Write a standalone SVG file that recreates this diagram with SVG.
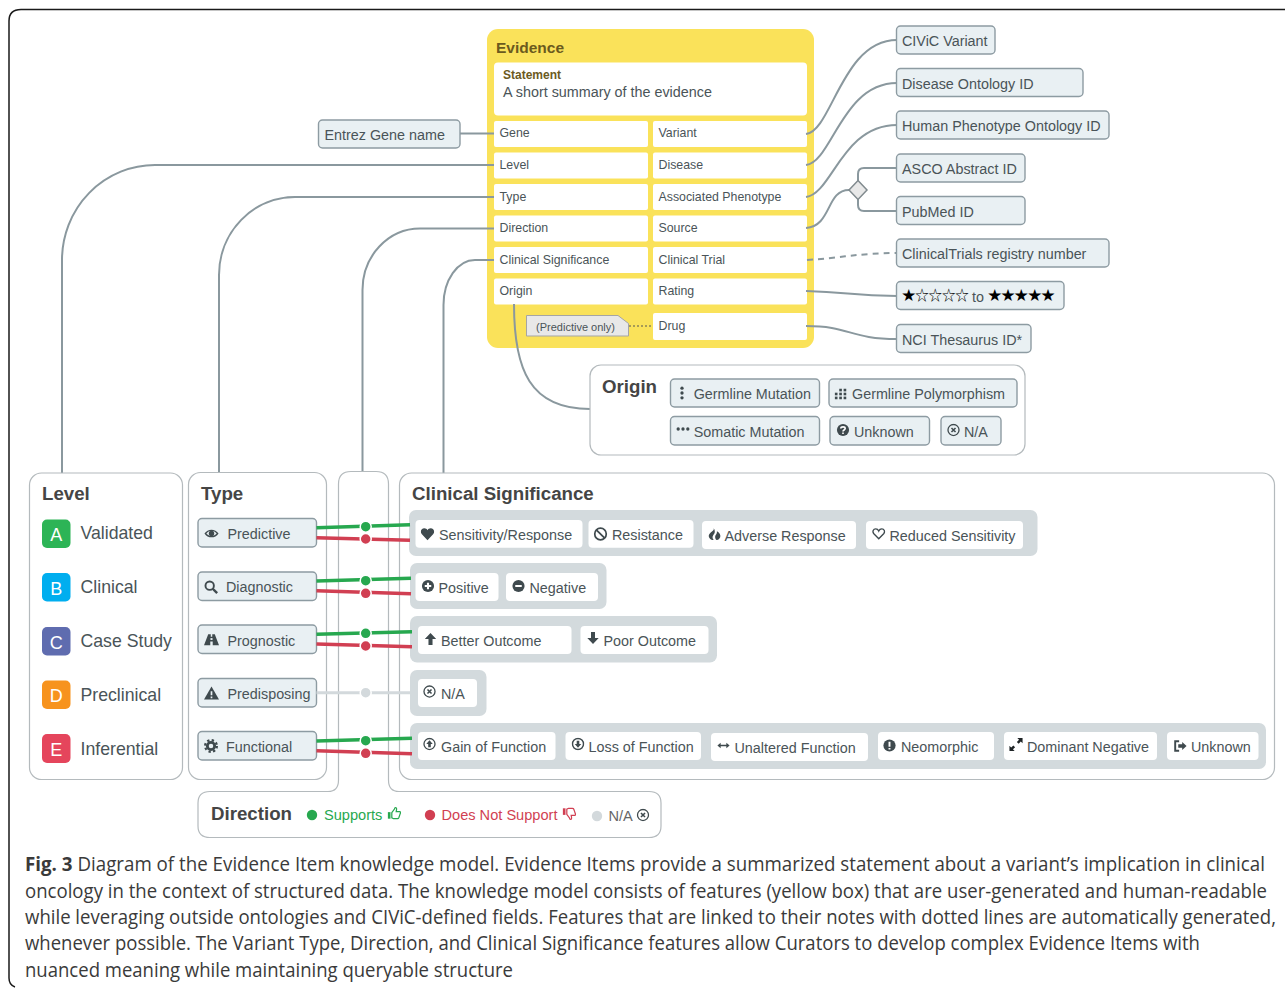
<svg xmlns="http://www.w3.org/2000/svg" width="1285" height="988" viewBox="0 0 1285 988">
<style>
text{font-family:"Liberation Sans",Arial,sans-serif;fill:#4a5458}
.panel{fill:#fff;stroke:#b4babd;stroke-width:1.2}
.chip{fill:#e9f0f3;stroke:#8d9ba2;stroke-width:1.4}
.white{fill:#fff}
.grp{fill:#d3dadd}
.field{fill:#fff}
.t{font-size:14.350px}
.ft{font-size:12.350px}
.h{font-size:18.700px;font-weight:bold;fill:#454545}
.lv{font-size:17.700px}
.badge{font-size:18px;fill:#fff;text-anchor:middle}
.star{font-family:"Noto Sans CJK JP",sans-serif;font-size:13.500px;fill:#000;letter-spacing:-.2px}
.con{fill:none;stroke:#8a989e;stroke-width:2}
.g{stroke:#27a84f;stroke-width:3.5;fill:none}
.r{stroke:#d13f52;stroke-width:3.5;fill:none}
.n{stroke:#d3d9dc;stroke-width:3;fill:none}
.dg{fill:#27a84f;stroke:#fff;stroke-width:1.5}
.dr{fill:#d13f52;stroke:#fff;stroke-width:1.5}
.dn{fill:#d3d9dc;stroke:#fff;stroke-width:1.5}
.cap{font-family:"Open Sans","Noto Sans",sans-serif;font-size:20px;fill:#3a3a3a}
</style>
<defs>
<symbol id="i-heart" viewBox="0 0 16 16"><path fill="#3f4a4e" d="M8 15 1.6 8.4C-1 5.4 1 1.5 4.4 1.5 6 1.5 7.3 2.4 8 3.6 8.7 2.4 10 1.5 11.6 1.5 15 1.5 17 5.4 14.4 8.4Z"/></symbol>
<symbol id="i-hearto" viewBox="0 0 16 16"><path fill="none" stroke="#3f4a4e" stroke-width="1.6" d="M8 14 2.2 8C0 5.4 1.6 2.3 4.4 2.3 6 2.3 7.3 3.3 8 4.8 8.7 3.3 10 2.3 11.6 2.3 14.4 2.3 16 5.4 13.8 8Z"/></symbol>
<symbol id="i-ban" viewBox="0 0 16 16"><circle cx="8" cy="8" r="6.6" fill="none" stroke="#3f4a4e" stroke-width="2"/><path d="M3.5 3.5 12.5 12.5" stroke="#3f4a4e" stroke-width="2"/></symbol>
<symbol id="i-fire" viewBox="0 0 16 16"><path fill="#3f4a4e" d="M7 .5C8.500 4 2 5.500 1 9.500 .5 12.500 3 15.500 7 15.500 4.500 12 6 10 7.500 8 9 6 8.500 3 7 .5ZM11 4.500C11.500 7.500 9 9 8.800 11 8.700 13 9.500 14.500 10.500 15.500 13.500 15 15.500 12.500 15.200 10 15 7.500 13 5.500 11 4.500Z"/></symbol>
<symbol id="i-plus" viewBox="0 0 16 16"><circle cx="8" cy="8" r="7.500" fill="#3f4a4e"/><path d="M8 4V12M4 8H12" stroke="#fff" stroke-width="2.600"/></symbol>
<symbol id="i-minus" viewBox="0 0 16 16"><circle cx="8" cy="8" r="7.500" fill="#3f4a4e"/><path d="M4 8H12" stroke="#fff" stroke-width="2.600"/></symbol>
<symbol id="i-up" viewBox="0 0 16 16"><path fill="#3f4a4e" d="M8 .5 15 8H10.500V15.500H5.500V8H1Z"/></symbol>
<symbol id="i-down" viewBox="0 0 16 16"><path fill="#3f4a4e" d="M8 15.500 15 8H10.500V.5H5.500V8H1Z"/></symbol>
<symbol id="i-x" viewBox="0 0 16 16"><circle cx="8" cy="8" r="6.800" fill="none" stroke="#3f4a4e" stroke-width="1.600"/><path d="M5.500 5.500 10.500 10.500M10.500 5.500 5.500 10.500" stroke="#3f4a4e" stroke-width="1.900"/></symbol>
<symbol id="i-upc" viewBox="0 0 16 16"><circle cx="8" cy="8" r="6.800" fill="none" stroke="#3f4a4e" stroke-width="1.600"/><path fill="#3f4a4e" d="M8 3.500 12 8H9.600V12H6.400V8H4Z"/></symbol>
<symbol id="i-downc" viewBox="0 0 16 16"><circle cx="8" cy="8" r="6.800" fill="none" stroke="#3f4a4e" stroke-width="1.800"/><path fill="#3f4a4e" d="M8 12.500 12 8H9.600V4H6.400V8H4Z"/></symbol>
<symbol id="i-lr" viewBox="0 0 16 16"><path fill="#3f4a4e" d="M.5 8 4.500 4.500V7H11.500V4.500L15.500 8 11.500 11.500V9H4.500V11.500Z"/></symbol>
<symbol id="i-ex" viewBox="0 0 16 16"><circle cx="8" cy="8" r="7.500" fill="#3f4a4e"/><path d="M8 3.500V9.500M8 11V13" stroke="#fff" stroke-width="2.400"/></symbol>
<symbol id="i-q" viewBox="0 0 16 16"><circle cx="8" cy="8" r="7.500" fill="#3f4a4e"/><path d="M5.300 6.200C5.500 3.500 10.700 3.500 10.700 6.200 10.700 8 8 8 8 9.800M8 11V13" fill="none" stroke="#fff" stroke-width="2"/></symbol>
<symbol id="i-exp" viewBox="0 0 16 16"><path fill="#1f2426" d="M9.500 .5H15.500V6.500L13.500 4.500 11 7 9 5 11.500 2.500ZM.5 9.500V15.500H6.500L4.500 13.500 7 11 5 9 2.500 11.500Z"/></symbol>
<symbol id="i-out" viewBox="0 0 16 16"><path fill="none" stroke="#3f4a4e" stroke-width="2.200" d="M7 2.500H2.500V13.500H7"/><path fill="#3f4a4e" d="M15.500 8 10.500 3.500V6H6V10H10.500V12.500Z"/></symbol>
<symbol id="i-ev" viewBox="0 0 16 16"><circle cx="8" cy="2.500" r="1.900" fill="#3f4a4e"/><circle cx="8" cy="8" r="1.900" fill="#3f4a4e"/><circle cx="8" cy="13.500" r="1.900" fill="#3f4a4e"/></symbol>
<symbol id="i-eh" viewBox="0 0 16 16"><circle cx="2.500" cy="8" r="1.900" fill="#3f4a4e"/><circle cx="8" cy="8" r="1.900" fill="#3f4a4e"/><circle cx="13.500" cy="8" r="1.900" fill="#3f4a4e"/></symbol>
<symbol id="i-chart" viewBox="0 0 16 16"><g fill="#3f4a4e"><rect x="6" y="2" width="3" height="3"/><rect x="11" y="2" width="3" height="3"/><rect x="6" y="6.500" width="3" height="3"/><rect x="11" y="6.500" width="3" height="3"/><rect x="1" y="11" width="3" height="3"/><rect x="6" y="11" width="3" height="3"/><rect x="11" y="11" width="3" height="3"/><rect x="1" y="6.500" width="3" height="3"/></g></symbol>
<symbol id="i-eye" viewBox="0 0 16 16"><path fill="#3f4a4e" d="M.5 8C4 2.500 12 2.500 15.500 8 12 13.500 4 13.500 .5 8Z"/><path fill="#e9f0f3" d="M2.500 8C5 4.500 11 4.500 13.500 8 11 11.500 5 11.500 2.500 8Z"/><circle cx="8" cy="8" r="2.900" fill="#3f4a4e"/></symbol>
<symbol id="i-search" viewBox="0 0 16 16"><circle cx="6.500" cy="6.500" r="4.800" fill="none" stroke="#3f4a4e" stroke-width="2.200"/><path d="M10 10 15 15" stroke="#3f4a4e" stroke-width="2.800"/></symbol>
<symbol id="i-road" viewBox="0 0 16 16"><path fill="#3f4a4e" d="M4.500 2.500H7.200V5H8.800V2.500H11.500L16 14H9.300V10H6.700V14H0Z"/><rect x="6.900" y="6.500" width="2.200" height="2" fill="#e9f0f3"/></symbol>
<symbol id="i-warn" viewBox="0 0 16 16"><path fill="#3f4a4e" d="M8 1 16 15H0Z"/><path d="M8 6V10.500M8 11.800V13.500" stroke="#e9f0f3" stroke-width="1.800"/></symbol>
<symbol id="i-gear" viewBox="0 0 16 16"><circle cx="8" cy="8" r="6.700" fill="none" stroke="#3f4a4e" stroke-width="2.600" stroke-dasharray="2.630 2.630"/><circle cx="8" cy="8" r="4.200" fill="none" stroke="#3f4a4e" stroke-width="3.200"/></symbol>
<symbol id="i-tu" viewBox="0 0 16 16"><path fill="none" stroke="#27a84f" stroke-width="1.400" d="M5.500 7.500 8.500 3.500C8.800 1.500 10.800 1 11 3.500L10.500 6.500H14.500C15.800 6.500 15.500 8 15 9L13.500 13.500C13.200 14.300 12.500 14.500 12 14.500H7.500L5.500 13.500Z"/><rect x="1" y="7" width="3" height="7.500" fill="#27a84f"/></symbol>
<symbol id="i-td" viewBox="0 0 16 16"><path fill="none" stroke="#d13f52" stroke-width="1.400" d="M5.500 8.500 8.500 12.500C8.800 14.500 10.800 15 11 12.500L10.500 9.500H14.500C15.800 9.500 15.500 8 15 7L13.500 2.500C13.200 1.700 12.500 1.500 12 1.500H7.500L5.500 2.500Z"/><rect x="1" y="1.500" width="3" height="7.500" fill="#d13f52"/></symbol>
</defs>

<rect width="1285" height="988" fill="#fff"/>
<path id="frame" d="M15 987Q9 985 9 978V21Q9 9.500 21 9.500H1285" fill="none" stroke="#1a1a1a" stroke-width="1.500"/>

<g id="evidence">
<rect x="487" y="29" width="327" height="319" rx="11" fill="#fae25a"/>
<text x="496" y="53" font-size="15.500" font-weight="bold" style="fill:#6b5a1e">Evidence</text>
<rect x="494" y="62.500" width="313" height="53" rx="4" class="field"/>
<text x="503" y="79" font-size="12" font-weight="bold" style="fill:#6b5a1e">Statement</text>
<text x="503" y="97" font-size="14.350">A short summary of the evidence</text>
</g>
<g id="f-gene"><rect x="494" y="121" width="154" height="26" rx="2" class="field"/><text x="499.500" y="137" class="ft">Gene</text></g>
<g id="f-level"><rect x="494" y="152.500" width="154" height="26" rx="2" class="field"/><text x="499.500" y="169" class="ft">Level</text></g>
<g id="f-type"><rect x="494" y="184" width="154" height="26" rx="2" class="field"/><text x="499.500" y="200.500" class="ft">Type</text></g>
<g id="f-direction"><rect x="494" y="215.500" width="154" height="26" rx="2" class="field"/><text x="499.500" y="232" class="ft">Direction</text></g>
<g id="f-clinsig"><rect x="494" y="247" width="154" height="26" rx="2" class="field"/><text x="499.500" y="263.500" class="ft">Clinical Significance</text></g>
<g id="f-origin"><rect x="494" y="278.500" width="154" height="26" rx="2" class="field"/><text x="499.500" y="295" class="ft">Origin</text></g>
<g id="f-variant"><rect x="653" y="121" width="154" height="26" rx="2" class="field"/><text x="658.500" y="137" class="ft">Variant</text></g>
<g id="f-disease"><rect x="653" y="152.500" width="154" height="26" rx="2" class="field"/><text x="658.500" y="169" class="ft">Disease</text></g>
<g id="f-phenotype"><rect x="653" y="184" width="154" height="26" rx="2" class="field"/><text x="658.500" y="200.500" class="ft">Associated Phenotype</text></g>
<g id="f-source"><rect x="653" y="215.500" width="154" height="26" rx="2" class="field"/><text x="658.500" y="232" class="ft">Source</text></g>
<g id="f-trial"><rect x="653" y="247" width="154" height="26" rx="2" class="field"/><text x="658.500" y="263.500" class="ft">Clinical Trial</text></g>
<g id="f-rating"><rect x="653" y="278.500" width="154" height="26" rx="2" class="field"/><text x="658.500" y="295" class="ft">Rating</text></g>
<g id="f-drug"><rect x="653" y="313" width="154" height="27" rx="2" class="field"/><text x="658.500" y="330" class="ft">Drug</text></g>
<g id="note-predictive">
<path d="M629 326H653" stroke="#555" stroke-width="1" stroke-dasharray="2 2" fill="none"/>
<path d="M526.500 315.500H618L628.500 323.500V336H526.500Z" fill="#e8e8e8" stroke="#a5a5a5" stroke-width="1"/>
<text x="575.500" y="331" font-size="11" text-anchor="middle">(Predictive only)</text>
</g>

<g id="connectors">
<path class="con" d="M460 133.500H494"/>
<path class="con" d="M494 165H155A93 95 0 0 0 62 260V473"/>
<path class="con" d="M494 197H295A76 78 0 0 0 219 275V473"/>
<path class="con" d="M494 228.500H420A57.500 61.500 0 0 0 362.500 290V472"/>
<path class="con" d="M494 260H475A31.500 45 0 0 0 443.500 305V473"/>
<path class="con" d="M514 304C514 370 530 409 590 409"/>
<path class="con" d="M806 134C832 131 842 40 897 40"/>
<path class="con" d="M806 165C832 162 842 83 897 83"/>
<path class="con" d="M806 197C832 194 842 125 897 125"/>
<path class="con" d="M806 228C832 226 826 190 849 190"/>
<path class="con" d="M858 181V174Q858 168 864 168H897"/>
<path class="con" d="M858 199V205Q858 211 864 211H897"/>
<path class="con" stroke-dasharray="6 5" d="M807 260C840 258 860 253 897 253"/>
<path class="con" d="M806 291C850 292 850 296 897 296"/>
<path class="con" d="M806 326C850 326 850 339 897 339"/>
</g>

<g id="x-entrez"><rect x="318.500" y="120" width="141.500" height="28" rx="4" class="chip"/><text x="324.500" y="139.500" class="t">Entrez Gene name</text></g>
<g id="x-civic"><rect x="896.500" y="26" width="98.500" height="28" rx="4" class="chip"/><text x="902" y="46" class="t">CIViC Variant</text></g>
<g id="x-do"><rect x="896.500" y="68.500" width="186.500" height="28" rx="4" class="chip"/><text x="902" y="88.500" class="t">Disease Ontology ID</text></g>
<g id="x-hpo"><rect x="896.500" y="111" width="212.500" height="28" rx="4" class="chip"/><text x="902" y="131" class="t">Human Phenotype Ontology ID</text></g>
<g id="x-asco"><rect x="896.500" y="154" width="128.500" height="28" rx="4" class="chip"/><text x="902" y="174" class="t">ASCO Abstract ID</text></g>
<g id="x-pubmed"><rect x="896.500" y="196.500" width="128.500" height="28" rx="4" class="chip"/><text x="902" y="216.500" class="t">PubMed ID</text></g>
<g id="x-ct"><rect x="896.500" y="239" width="212.500" height="28" rx="4" class="chip"/><text x="902" y="259" class="t">ClinicalTrials registry number</text></g>
<g id="x-rating"><rect x="896.500" y="281.500" width="167.500" height="28" rx="4" class="chip"/>
<text x="902" y="300" class="star">★☆☆☆☆</text>
<text x="972" y="301.500" class="t">to</text>
<text x="988" y="300" class="star">★★★★★</text></g>
<g id="x-nci"><rect x="896.500" y="324.500" width="134.500" height="28" rx="4" class="chip"/><text x="902" y="344.500" class="t">NCI Thesaurus ID*</text></g>
<g id="diamond"><path d="M858 180.500 867 190 858 199.500 849 190Z" fill="#e8e8e8" stroke="#808a8e" stroke-width="1.500"/></g>

<g id="origin">
<rect x="590" y="365" width="435" height="90" rx="11" class="panel"/>
<text x="602" y="393" class="h">Origin</text>
<rect x="670.500" y="379" width="149" height="28" rx="4" class="chip"/><use href="#i-ev" x="675" y="386" width="14" height="14"/><text x="693.700" y="398.500" class="t">Germline Mutation</text>
<rect x="829" y="379" width="188" height="28" rx="4" class="chip"/><use href="#i-chart" x="834" y="387" width="14" height="14"/><text x="852" y="398.500" class="t">Germline Polymorphism</text>
<rect x="670.500" y="416.500" width="149" height="28.500" rx="4" class="chip"/><use href="#i-eh" x="676" y="422" width="14" height="14"/><text x="693.700" y="436.500" class="t">Somatic Mutation</text>
<rect x="830" y="416.500" width="99.500" height="28.500" rx="4" class="chip"/><use href="#i-q" x="836.500" y="423.500" width="13" height="13"/><text x="854" y="436.500" class="t">Unknown</text>
<rect x="941" y="416.500" width="60" height="28.500" rx="4" class="chip"/><use href="#i-x" x="947" y="423.500" width="13" height="13"/><text x="964" y="436.500" class="t">N/A</text>
</g>

<g id="level">
<rect x="29.500" y="473" width="153" height="306.500" rx="12" class="panel"/>
<text x="42" y="500" class="h">Level</text>
<rect x="42" y="519.500" width="28.500" height="28.500" rx="5" fill="#2db456"/><text x="56.200" y="541" class="badge">A</text><text x="80.500" y="539" class="lv">Validated</text>
<rect x="42" y="573" width="28.500" height="28.500" rx="5" fill="#00aeef"/><text x="56.200" y="594.500" class="badge">B</text><text x="80.500" y="593" class="lv">Clinical</text>
<rect x="42" y="627" width="28.500" height="28.500" rx="5" fill="#5f6caf"/><text x="56.200" y="648.500" class="badge">C</text><text x="80.500" y="647" class="lv">Case Study</text>
<rect x="42" y="680.500" width="28.500" height="28.500" rx="5" fill="#f7931e"/><text x="56.200" y="702" class="badge">D</text><text x="80.500" y="700.500" class="lv">Preclinical</text>
<rect x="42" y="734" width="28.500" height="29" rx="5" fill="#e5455c"/><text x="56.200" y="755.500" class="badge">E</text><text x="80.500" y="755" class="lv">Inferential</text>
</g>

<g id="type">
<rect x="188.500" y="472.500" width="138" height="307" rx="12" class="panel"/>
<text x="201" y="500" class="h">Type</text>
<rect x="198" y="518.500" width="118.500" height="28.500" rx="4" class="chip"/><use href="#i-eye" x="204" y="526" width="15" height="15"/><text x="227.500" y="538.500" class="t">Predictive</text>
<rect x="198" y="572" width="118.500" height="28.500" rx="4" class="chip"/><use href="#i-search" x="204" y="580" width="14" height="14"/><text x="226" y="592" class="t">Diagnostic</text>
<rect x="198" y="625" width="118.500" height="28.500" rx="4" class="chip"/><use href="#i-road" x="204" y="632" width="15" height="15"/><text x="227.500" y="645.500" class="t">Prognostic</text>
<rect x="198" y="678.500" width="118.500" height="28.500" rx="4" class="chip"/><use href="#i-warn" x="204" y="685.500" width="15" height="15"/><text x="227.500" y="698.500" class="t">Predisposing</text>
<rect x="198" y="731.500" width="118.500" height="28.500" rx="4" class="chip"/><use href="#i-gear" x="204" y="739" width="14" height="14"/><text x="226" y="751.500" class="t">Functional</text>
</g>

<g id="direction">
<path class="panel" d="M338.500 780Q338.500 791.500 328 791.500H210Q198 791.500 198 803V826Q198 837.500 210 837.500H649Q661 837.500 661 826V803Q661 791.500 649 791.500H399Q388.500 791.500 388.500 780V484Q388.500 471.500 376 471.500H351Q338.500 471.500 338.500 484Z"/>
<text x="211" y="820" class="h">Direction</text>
<circle cx="312" cy="815" r="5.200" fill="#27a84f"/><text x="324" y="820" font-size="14.600" style="fill:#27a84f">Supports</text><use href="#i-tu" x="387" y="806" width="14" height="14"/>
<circle cx="430" cy="815" r="5.200" fill="#d13f52"/><text x="441.500" y="820" font-size="14.600" style="fill:#d13f52">Does Not Support</text><use href="#i-td" x="562" y="807" width="14" height="14"/>
<circle cx="597" cy="816" r="5.200" fill="#d3d9dc"/><text x="608.500" y="821" font-size="14.600" style="fill:#666">N/A</text><use href="#i-x" x="636.500" y="808.500" width="13" height="13"/>
</g>

<g id="clinical-significance">
<rect x="399.500" y="473" width="875" height="306.500" rx="12" class="panel"/>
<text x="412" y="500" class="h">Clinical Significance</text>
<rect x="409" y="510" width="628.500" height="46" rx="7" class="grp"/>
<rect x="410" y="563" width="196.500" height="46" rx="7" class="grp"/>
<rect x="410" y="616" width="307" height="46.500" rx="7" class="grp"/>
<rect x="410" y="670" width="76.500" height="46" rx="7" class="grp"/>
<rect x="410" y="723" width="856" height="46" rx="7" class="grp"/>
<rect x="415.500" y="520" width="167" height="27.700" rx="4" class="white"/><use href="#i-heart" x="420.500" y="527" width="14" height="14"/><text x="439" y="539.500" class="t">Sensitivity/Response</text>
<rect x="588.500" y="520" width="105" height="27.700" rx="4" class="white"/><use href="#i-ban" x="593.500" y="527" width="14" height="14"/><text x="612" y="539.500" class="t">Resistance</text>
<rect x="702" y="521" width="154" height="28" rx="4" class="white"/><use href="#i-fire" x="708" y="527.500" width="13" height="13"/><text x="724.500" y="540.500" class="t">Adverse Response</text>
<rect x="866" y="521" width="157" height="28" rx="4" class="white"/><use href="#i-hearto" x="872" y="527" width="13.500" height="13.500"/><text x="889.500" y="540.500" class="t">Reduced Sensitivity</text>
<rect x="415.500" y="573" width="83" height="28" rx="4" class="white"/><use href="#i-plus" x="421.500" y="579.500" width="13" height="13"/><text x="438.500" y="592.500" class="t">Positive</text>
<rect x="506" y="573" width="92" height="28" rx="4" class="white"/><use href="#i-minus" x="512" y="579.500" width="13" height="13"/><text x="529.500" y="592.500" class="t">Negative</text>
<rect x="418" y="626" width="153.500" height="28" rx="4" class="white"/><use href="#i-up" x="424" y="632.500" width="13" height="13"/><text x="441" y="645.500" class="t">Better Outcome</text>
<rect x="580.500" y="626" width="128" height="28" rx="4" class="white"/><use href="#i-down" x="586.500" y="631.500" width="13" height="13"/><text x="603.500" y="645.500" class="t">Poor Outcome</text>
<rect x="418" y="679" width="59" height="28" rx="4" class="white"/><use href="#i-x" x="423" y="685" width="13" height="13"/><text x="441" y="698.500" class="t">N/A</text>
<rect x="418" y="732" width="137.500" height="28" rx="4" class="white"/><use href="#i-upc" x="423" y="737.500" width="13" height="13"/><text x="441" y="751.500" class="t">Gain of Function</text>
<rect x="565.500" y="732" width="135.500" height="28" rx="4" class="white"/><use href="#i-downc" x="571.500" y="737.500" width="13" height="13"/><text x="588.500" y="751.500" class="t">Loss of Function</text>
<rect x="711" y="733" width="157" height="28" rx="4" class="white"/><use href="#i-lr" x="717" y="739" width="13" height="13"/><text x="734.500" y="752.500" class="t">Unaltered Function</text>
<rect x="878" y="732" width="116" height="28" rx="4" class="white"/><use href="#i-ex" x="883" y="739" width="13" height="13"/><text x="901" y="752" class="t">Neomorphic</text>
<rect x="1004" y="732" width="153" height="28" rx="4" class="white"/><use href="#i-exp" x="1009" y="737.500" width="14" height="14"/><text x="1027" y="751.500" class="t">Dominant Negative</text>
<rect x="1167" y="732" width="91.500" height="28" rx="4" class="white"/><use href="#i-out" x="1173" y="739" width="14" height="14"/><text x="1191" y="752" class="t">Unknown</text>
</g>

<g id="direction-links">
<path class="g" d="M316.500 527.700 410 524.700"/><path class="r" d="M316.500 537.700 410 540.300"/>
<circle class="dg" cx="365.700" cy="526.700" r="5.500"/><circle class="dr" cx="365.700" cy="539" r="5.500"/>
<path class="g" d="M316.500 581 411 578.300"/><path class="r" d="M316.500 590.700 411 593.700"/>
<circle class="dg" cx="365.700" cy="580.700" r="5.500"/><circle class="dr" cx="365.700" cy="593.300" r="5.500"/>
<path class="g" d="M316.500 634.300 412 631.700"/><path class="r" d="M316.500 644 412 646.700"/>
<circle class="dg" cx="365.700" cy="633.300" r="5.500"/><circle class="dr" cx="365.700" cy="646" r="5.500"/>
<path class="n" d="M316.500 692.700H410"/><circle class="dn" cx="365.700" cy="692.700" r="5.500"/>
<path class="g" d="M316.500 741 412 738.300"/><path class="r" d="M316.500 750.700 412 753.700"/>
<circle class="dg" cx="365.700" cy="740.700" r="5.500"/><circle class="dr" cx="365.700" cy="753.300" r="5.500"/>
</g>

<g id="caption">
<text class="cap" transform="translate(25 871) scale(.908 1)" textLength="1365.600" lengthAdjust="spacingAndGlyphs"><tspan font-weight="bold">Fig. 3</tspan> Diagram of the Evidence Item knowledge model. Evidence Items provide a summarized statement about a variant’s implication in clinical</text>
<text class="cap" transform="translate(25 898) scale(.93 1)" textLength="1335.500" lengthAdjust="spacingAndGlyphs">oncology in the context of structured data. The knowledge model consists of features (yellow box) that are user-generated and human-readable</text>
<text class="cap" transform="translate(25 924) scale(.928 1)" textLength="1348" lengthAdjust="spacingAndGlyphs">while leveraging outside ontologies and CIViC-defined fields. Features that are linked to their notes with dotted lines are automatically generated,</text>
<text class="cap" transform="translate(25 950) scale(.93 1)" textLength="1263.400" lengthAdjust="spacingAndGlyphs">whenever possible. The Variant Type, Direction, and Clinical Significance features allow Curators to develop complex Evidence Items with</text>
<text class="cap" transform="translate(25 977) scale(.93 1)" textLength="524.700" lengthAdjust="spacingAndGlyphs">nuanced meaning while maintaining queryable structure</text>
</g>
</svg>
